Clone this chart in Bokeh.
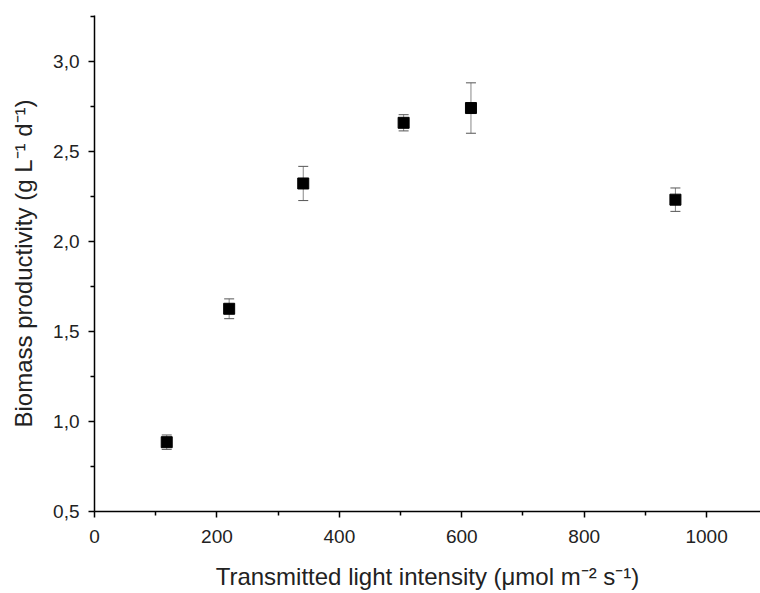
from bokeh.plotting import figure
from bokeh.models import ColumnDataSource, Whisker, TeeHead, Range1d, FixedTicker, CustomJSTickFormatter
from bokeh.embed import file_html
from bokeh.resources import INLINE

light = [118, 220, 341, 505, 615, 949]
productivity = [0.885, 1.626, 2.322, 2.659, 2.741, 2.232]
error = [0.040, 0.055, 0.095, 0.045, 0.140, 0.065]

x_ticks = [0, 200, 400, 600, 800, 1000]
x_minor = [100, 300, 500, 700, 900, 1100]
y_ticks = [0.5, 1.0, 1.5, 2.0, 2.5, 3.0]
y_minor = [0.75, 1.25, 1.75, 2.25, 2.75, 3.25]

src = ColumnDataSource(dict(
    x=light, y=productivity,
    lo=[v - e for v, e in zip(productivity, error)],
    hi=[v + e for v, e in zip(productivity, error)],
))

p = figure(width=760, height=593, output_backend="svg", toolbar_location=None,
           x_range=Range1d(0, 1088), y_range=Range1d(0.5, 3.255),
           min_border_left=94, min_border_right=0, min_border_top=15, min_border_bottom=82)
p.outline_line_color = None
p.background_fill_color = "white"
p.border_fill_color = "white"
p.grid.visible = False

whisk = Whisker(source=src, base="x", lower="lo", upper="hi",
                line_color="#888888", line_width=1,
                upper_head=TeeHead(size=10, line_color="#555555", line_width=1),
                lower_head=TeeHead(size=10, line_color="#555555", line_width=1))
p.add_layout(whisk)
p.scatter("x", "y", source=src, marker="square", size=11, color="black")

fmt = CustomJSTickFormatter(code="return tick.toFixed(1).replace('.', ',');")
p.yaxis.formatter = fmt
p.xaxis.ticker = FixedTicker(ticks=x_ticks, minor_ticks=x_minor)
p.yaxis.ticker = FixedTicker(ticks=y_ticks, minor_ticks=y_minor)

for ax in (p.xaxis[0], p.yaxis[0]):
    ax.axis_line_color = "black"
    ax.axis_line_width = 1.5
    ax.major_tick_line_color = "black"
    ax.major_tick_line_width = 1.5
    ax.minor_tick_line_color = "black"
    ax.minor_tick_line_width = 1.5
    ax.major_tick_out = 6
    ax.major_tick_in = 0
    ax.minor_tick_out = 4
    ax.minor_tick_in = 0
    ax.major_label_text_font = "Liberation Sans"
    ax.major_label_text_font_size = "19px"
    ax.major_label_text_color = "#222222"
    ax.axis_label_text_font = "Liberation Sans"
    ax.axis_label_text_font_size = "24px"
    ax.axis_label_text_font_style = "normal"
    ax.axis_label_text_color = "#222222"

p.xaxis.axis_label = "Transmitted light intensity (\u03bcmol m\u207b\u00b2 s\u207b\u00b9)"
p.yaxis.axis_label = "Biomass productivity (g L\u207b\u00b9 d\u207b\u00b9)"
p.xaxis.major_label_standoff = 12
p.yaxis.major_label_standoff = 9
p.xaxis.axis_label_standoff = 17
p.yaxis.axis_label_standoff = 13

open("out.html", "w").write(file_html(p, INLINE))
